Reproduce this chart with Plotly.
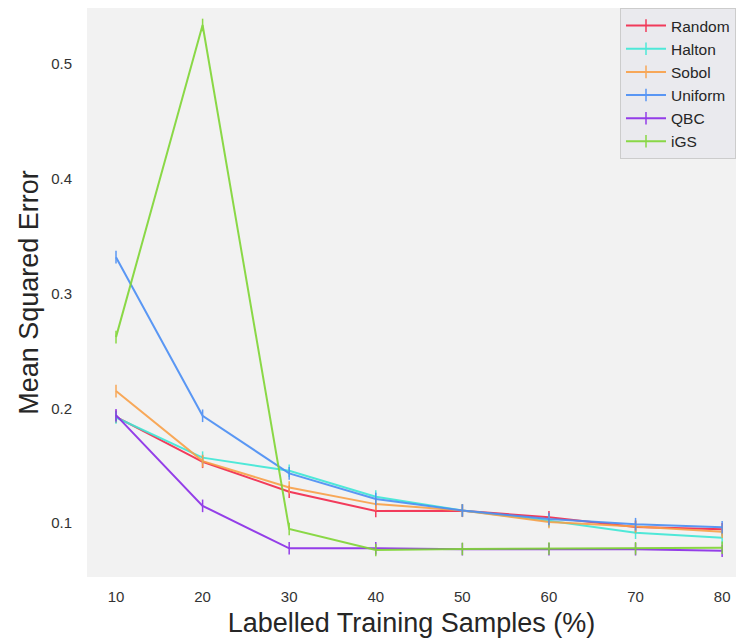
import plotly.graph_objects as go

samples = [10, 20, 30, 40, 50, 60, 70, 80]
random_mse = [0.1926, 0.1534, 0.1273, 0.1105, 0.1107, 0.1050, 0.0965, 0.0945]
halton_mse = [0.1920, 0.1570, 0.1456, 0.1230, 0.1110, 0.1020, 0.0916, 0.0872]
sobol_mse = [0.2150, 0.1540, 0.1310, 0.1165, 0.1110, 0.1010, 0.0970, 0.0924]
uniform_mse = [0.3317, 0.1935, 0.1433, 0.1210, 0.1110, 0.1035, 0.0990, 0.0963]
qbc_mse = [0.1940, 0.1150, 0.0780, 0.0780, 0.0772, 0.0772, 0.0772, 0.0759]
igs_mse = [0.2620, 0.5340, 0.0948, 0.0765, 0.0775, 0.0778, 0.0780, 0.0785]

series = [
    ("Random", random_mse, "#f2284b"),
    ("Halton", halton_mse, "#3ee8d6"),
    ("Sobol", sobol_mse, "#f9a048"),
    ("Uniform", uniform_mse, "#4a8ef5"),
    ("QBC", qbc_mse, "#8a2be8"),
    ("iGS", igs_mse, "#7fd634"),
]

fig = go.Figure()
for name, vals, col in series:
    fig.add_trace(go.Scatter(
        x=samples, y=vals, name=name, mode="lines+markers",
        line=dict(color=col, width=2),
        marker=dict(symbol="line-ns", size=9, color=col,
                    line=dict(color=col, width=1.5)),
        opacity=0.9,
    ))

fig.update_layout(
    width=728, height=630,
    margin=dict(l=79, r=0, t=0, b=61),
    paper_bgcolor="white",
    plot_bgcolor="#f2f2f2",
    font=dict(family="Liberation Sans, Arial, sans-serif", color="#333333"),
    showlegend=True,
    legend=dict(
        x=1.0, y=1.0, xanchor="right", yanchor="top",
        bgcolor="#eaeaee", bordercolor="#cccccc", borderwidth=1,
        font=dict(size=15.5, color="#262626"),
        tracegroupgap=0, itemwidth=40,
    ),
    xaxis=dict(
        range=[6.65, 81.6], tickvals=samples, ticktext=[str(s) for s in samples],
        showgrid=False, zeroline=False, showline=False,
        tickfont=dict(size=15, color="#333333"),
        ticklabelstandoff=9,
        title=dict(text="Labelled Training Samples (%)", font=dict(size=27, color="#262626"), standoff=9),
        ticks="", ticklen=0,
    ),
    yaxis=dict(
        range=[0.053, 0.5488], tickvals=[0.1, 0.2, 0.3, 0.4, 0.5],
        ticktext=["0.1", "0.2", "0.3", "0.4", "0.5"],
        showgrid=False, zeroline=False, showline=False,
        tickfont=dict(size=15, color="#333333"),
        ticklabelstandoff=14,
        title=dict(text="Mean Squared Error", font=dict(size=27, color="#262626"), standoff=4),
        ticks="", ticklen=0,
    ),
)

fig.write_html("out.html")
